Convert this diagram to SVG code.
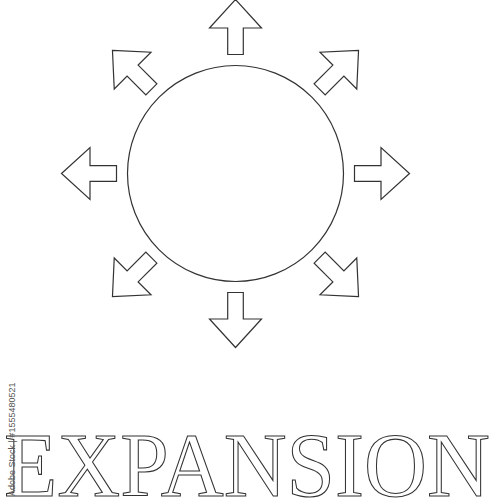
<svg xmlns="http://www.w3.org/2000/svg" xmlns:xlink="http://www.w3.org/1999/xlink" width="491" height="500" viewBox="0 0 491 500">
<style>
.ol{fill:#fff;stroke:#333;stroke-width:1.2;stroke-linejoin:miter}
.title{font-family:"Liberation Serif","DejaVu Serif",serif;font-size:92px;fill:#fff;stroke:#333;stroke-width:1.1}
.wm{font-family:"Liberation Sans",Arial,sans-serif;font-size:9px;fill:#555}
</style>
<defs>
<path id="arr" d="M0,-174 L26,-145.5 L7.8,-145.5 L7.8,-119 L-7.8,-119 L-7.8,-145.5 L-26,-145.5 Z"/>
</defs>
<rect width="491" height="500" fill="#fff"/>
<g id="circle">
<circle cx="235.5" cy="173.5" r="108" class="ol"/>
</g>
<g id="connectors" transform="translate(235.5,173.5)">
<use xlink:href="#arr" class="ol"/>
<use xlink:href="#arr" class="ol" transform="rotate(45)"/>
<use xlink:href="#arr" class="ol" transform="rotate(90)"/>
<use xlink:href="#arr" class="ol" transform="rotate(135)"/>
<use xlink:href="#arr" class="ol" transform="rotate(180)"/>
<use xlink:href="#arr" class="ol" transform="rotate(225)"/>
<use xlink:href="#arr" class="ol" transform="rotate(270)"/>
<use xlink:href="#arr" class="ol" transform="rotate(315)"/>
</g>
<g id="title">
<text x="4" y="496" class="title" textLength="486" lengthAdjust="spacingAndGlyphs">EXPANSION</text>
</g>
<g id="watermark">
<text class="wm" transform="translate(15,496) rotate(-90)">Adobe Stock | #1555480521</text>
</g>
</svg>
